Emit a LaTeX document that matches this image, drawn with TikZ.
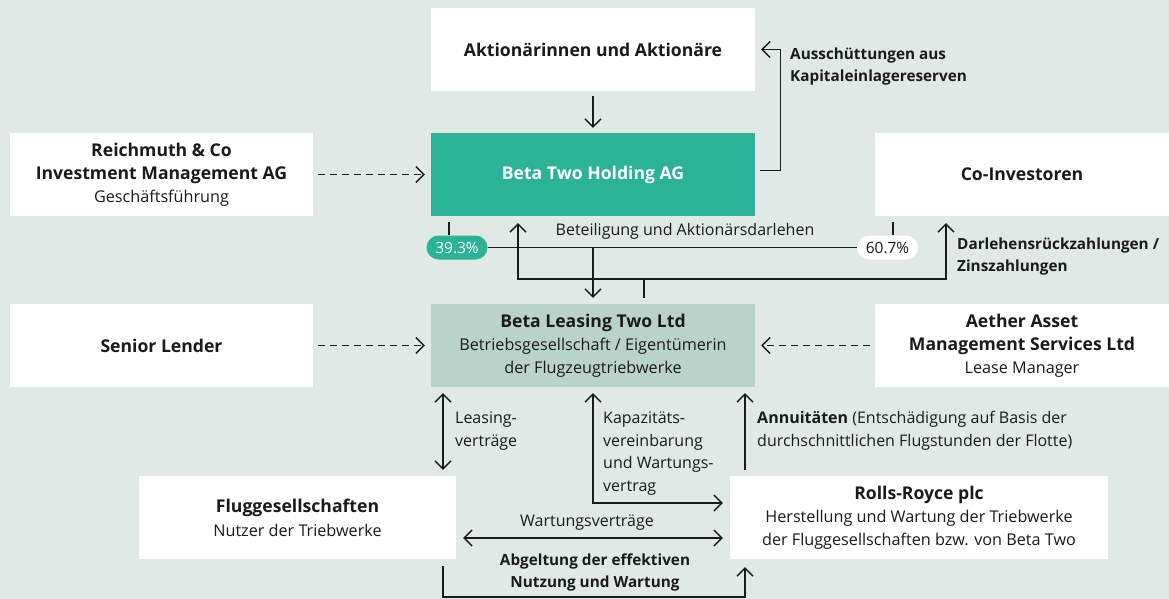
\documentclass[tikz,border=0pt]{standalone}
\usepackage{fontspec}
\setmainfont{Open Sans}
\usetikzlibrary{arrows.meta}

\definecolor{bgc}{HTML}{E1E9E7}
\definecolor{teal}{HTML}{2BB398}
\definecolor{leasegreen}{HTML}{BAD3CA}
\definecolor{ink}{HTML}{1A1A1A}

\tikzset{
  box/.style={rectangle, fill=white, inner sep=0pt, align=center, text=ink,
    minimum height=83pt, font=\fontsize{16.2}{23}\selectfont},
  pill/.style={rectangle, rounded corners=12pt, minimum width=61pt,
    minimum height=24pt, inner sep=0pt, font=\fontsize{15.5}{18}\selectfont},
  line/.style={draw=ink, line width=1.4pt},
  arr/.style={line, -{Straight Barb[length=8pt,width=16pt,line width=1.4pt]}},
  darr/.style={line, {Straight Barb[length=8pt,width=16pt,line width=1.4pt]}-{Straight Barb[length=8pt,width=16pt,line width=1.4pt]}},
  dasharr/.style={arr, dash pattern=on 7pt off 5pt},
  lbl/.style={text=ink, inner sep=0pt, font=\fontsize{16}{22.5}\selectfont},
  blbl/.style={lbl, font=\fontsize{15.3}{22}\selectfont\bfseries},
}
\newcommand{\ttl}[1]{\textbf{\fontsize{17.6}{22.5}\selectfont #1}}

\begin{document}
\begin{tikzpicture}[x=1pt, y=-1pt]
  \fill[bgc] (0,0) rectangle (1169,599);
  \useasboundingbox (0,0) rectangle (1169,599);

  % entities
  \node[box, minimum width=324pt] (akt) at (593,49.5)
    {\ttl{Aktionärinnen und Aktionäre}};
  \node[box, minimum width=324pt, fill=teal, text=white] (b2h) at (593,174.5)
    {\ttl{Beta Two Holding AG}};
  \node[box, minimum width=303pt] (reich) at (161.5,174.5)
    {\ttl{Reichmuth \& Co}\\
     \ttl{Investment Management AG}\\
     Geschäftsführung};
  \node[box, minimum width=294pt] (coinv) at (1022,174.5)
    {\ttl{Co-Investoren}};
  \node[box, minimum width=303pt] (senior) at (161.5,345.5)
    {\ttl{Senior Lender}};
  \node[box, minimum width=324pt, fill=leasegreen] (bl2) at (593,345.5)
    {\ttl{Beta Leasing Two Ltd}\\
     Betriebsgesellschaft / Eigentümerin\\
     der Flugzeugtriebwerke};
  \node[box, minimum width=294pt] (aether) at (1022,345.5)
    {\ttl{Aether Asset}\\
     \ttl{Management Services Ltd}\\
     Lease Manager};
  \node[box, minimum width=317pt] (flug) at (297.5,517.5)
    {\ttl{Fluggesellschaften}\\[1pt]
     Nutzer der Triebwerke};
  \node[box, minimum width=378pt] (rr) at (919,517.5)
    {\ttl{Rolls-Royce plc}\\
     Herstellung und Wartung der Triebwerke\\
     der Fluggesellschaften bzw. von Beta Two};

  % shareholding pills
  \node[pill, fill=teal, text=white] (p39) at (457,247.5) {39.3\%};
  \node[pill, fill=white, text=ink] (p60) at (887.5,247.5) {60.7\%};

  % helper x positions
  \coordinate (t39) at (449,0);
  \coordinate (t60) at (893,0);
  \coordinate (u1) at (518,0);
  \coordinate (u2) at (946,0);
  \coordinate (j) at (644,279);
  \coordinate (l1) at (443,0);
  \coordinate (a1) at (745,0);
  \coordinate (bot) at (0,597);

  % top level flows
  \draw[arr] ([yshift=-5pt]akt.south) -- ([yshift=5pt]b2h.north);
  \draw[arr] ([xshift=5pt,yshift=4pt]b2h.east) -| ([xshift=25pt]akt.east)
    -- ([xshift=6pt]akt.east);
  \node[blbl, anchor=west, align=left] (aus) at (790,67)
    {Ausschüttungen aus\\Kapitaleinlagereserven};

  \draw[dasharr] ([xshift=5pt]reich.east) -- ([xshift=-6pt]b2h.west);
  \draw[dasharr] ([xshift=5pt]senior.east) -- ([xshift=-6pt]bl2.west);
  \draw[dasharr] ([xshift=-5pt]aether.west) -- ([xshift=6pt]bl2.east);

  % ownership and shareholder loans
  \draw[line] ([yshift=-6pt]b2h.south -| t39) -- (p39.north -| t39);
  \draw[line] ([yshift=-6pt]coinv.south -| t60) -- (p60.north -| t60);
  \draw[line] (p39.east) -- (p60.west);
  \draw[arr] (p39.east -| b2h.south) -- ([yshift=6pt]bl2.north);
  \node[lbl] (betl) at (685,231) {Beteiligung und Aktionärsdarlehen};

  % repayments
  \draw[line] ([yshift=6pt]bl2.north -| j) -- (j);
  \draw[arr] (j) -| ([yshift=-7pt]b2h.south -| u1);
  \draw[arr] (j) -| ([yshift=-7pt]coinv.south -| u2);
  \node[blbl, anchor=west, align=left] (darl) at (957,256.5)
    {Darlehensrückzahlungen /\\Zinszahlungen};

  % operating relationships
  \draw[darr] ([yshift=-6pt]bl2.south -| l1) -- ([yshift=6pt]flug.north -| l1);
  \node[lbl, anchor=west, align=left] (leas) at (455,431) {Leasing-\\verträge};

  \draw[darr] ([yshift=-6pt]bl2.south) |- ([xshift=-7pt,yshift=14.5pt]rr.west);
  \node[lbl, anchor=west, align=left] (kap) at (603,453.5)
    {Kapazitäts-\\vereinbarung\\und Wartungs-\\vertrag};

  \draw[arr] ([yshift=6pt]rr.north -| a1) -- ([yshift=-6pt]bl2.south -| a1);
  \node[lbl, anchor=west, align=left] (ann) at (757,431)
    {\textbf{Annuitäten} (Entschädigung auf Basis der\\durchschnittlichen Flugstunden der Flotte)};

  \draw[darr] ([xshift=7pt,yshift=-20.5pt]flug.east) -- ([xshift=-7pt,yshift=-20.5pt]rr.west);
  \node[lbl] (wart) at (587,523) {Wartungsverträge};

  \draw[arr] ([yshift=-7pt]flug.south -| l1) -- (l1 |- bot) -| ([yshift=-8pt]rr.south -| a1);
  \node[blbl, align=center] (abg) at (595,572)
    {Abgeltung der effektiven\\Nutzung und Wartung};
\end{tikzpicture}
\end{document}
